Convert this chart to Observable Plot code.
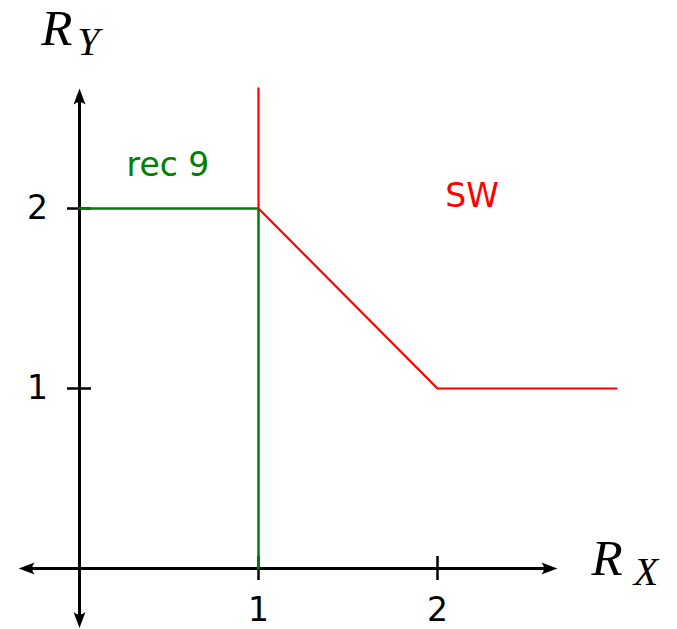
<!DOCTYPE html>
<html>
<head>
<meta charset="utf-8">
<script src="https://cdn.jsdelivr.net/npm/d3@7"></script>
<script src="https://cdn.jsdelivr.net/npm/@observablehq/plot@0.6"></script>
<style>
  html, body { margin: 0; padding: 0; background: #fff; }
</style>
</head>
<body>
<div id="chart"></div>
<script>
// Rate-region boundaries (R_X, R_Y)
const swX = [1, 1, 2, 3];
const swY = [2.667, 2, 1, 1];
const recX = [0, 1, 1];
const recY = [2, 2, 0];

// Tick values on both axes
const xTicks = [1, 2];
const yTicks = [1, 2];

// Axis extent (arrow tips)
const axisXMin = -0.34, axisXMax = 2.67;
const axisYMin = -0.33, axisYMax = 2.667;

// Region labels
const regionLabels = ["rec 9", "SW"];
const regionColors = ["green", "red"];
const regionX = [0.494, 2.193];
const regionY = [2.239, 2.069];

const W = 677, H = 629;
const ox = 79, oy = 568, ux = 179, uy = 180;   // origin pixel and unit lengths
const xDomain = [-ox / ux, (W - ox) / ux];
const yDomain = [(oy - H) / uy, oy / uy];

const tickHalfX = 12 / uy;   // half tick length in y units
const tickHalfY = 12 / ux;   // half tick length in x units

// Filled arrowhead with its tip at the origin, pointing up
const arrowHead = {
  draw(ctx, size) {
    ctx.moveTo(0, 0);
    ctx.lineTo(6, 16);
    ctx.quadraticCurveTo(0, 11, -6, 16);
    ctx.closePath();
  }
};

const sw = swX.map((x, i) => ({x, y: swY[i]}));
const rec = recX.map((x, i) => ({x, y: recY[i]}));
const arrows = [
  {x: axisXMax, y: 0, r: 90},
  {x: axisXMin, y: 0, r: 270},
  {x: 0, y: axisYMax, r: 0},
  {x: 0, y: axisYMin, r: 180}
];
const labels = regionLabels.map((t, i) => ({t, x: regionX[i], y: regionY[i], c: regionColors[i]}));

const serif = "'Liberation Serif', 'DejaVu Serif', serif";
const sans = "'DejaVu Sans', sans-serif";

const chart = Plot.plot({
  width: W,
  height: H,
  margin: 0,
  x: {domain: xDomain, range: [0, W], axis: null},
  y: {domain: yDomain, range: [H, 0], axis: null},
  marks: [
    // axes
    Plot.ruleY([0], {x1: axisXMin + 0.03, x2: axisXMax - 0.03, stroke: "black", strokeWidth: 3}),
    Plot.ruleX([0], {y1: axisYMin + 0.03, y2: axisYMax - 0.03, stroke: "black", strokeWidth: 3}),
    Plot.dot(arrows, {x: "x", y: "y", rotate: "r", symbol: arrowHead, fill: "black", stroke: "none", r: 4}),
    // ticks
    Plot.ruleX(xTicks, {y1: -tickHalfX, y2: tickHalfX, stroke: "black", strokeWidth: 2.5}),
    Plot.ruleY(yTicks, {x1: -tickHalfY, x2: tickHalfY, stroke: "black", strokeWidth: 2.5}),
    Plot.text(xTicks, {x: d => d, y: -0.233, text: d => String(d), fontSize: 33, fontFamily: sans, fill: "black"}),
    Plot.text(yTicks, {x: -0.235, y: d => d, text: d => String(d), fontSize: 33, fontFamily: sans, fill: "black"}),
    // region boundaries
    Plot.line(rec, {x: "x", y: "y", stroke: "green", strokeWidth: 2.5, strokeLinejoin: "miter"}),
    Plot.line(sw, {x: "x", y: "y", stroke: "red", strokeWidth: 2.2, strokeLinejoin: "miter"}),
    // region labels
    Plot.text(labels, {x: "x", y: "y", text: "t", fill: "c", fontSize: 33, fontFamily: sans}),
    // axis titles
    Plot.text(["R"], {x: -0.126, y: 2.997, text: d => d, fontSize: 51, fontStyle: "italic", fontFamily: serif, fill: "black"}),
    Plot.text(["Y"], {x: 0.05, y: 2.925, text: d => d, fontSize: 40, fontStyle: "italic", fontFamily: serif, fill: "black"}),
    Plot.text(["R"], {x: 2.947, y: 0.053, text: d => d, fontSize: 51, fontStyle: "italic", fontFamily: serif, fill: "black"}),
    Plot.text(["X"], {x: 3.165, y: -0.019, text: d => d, fontSize: 40, fontStyle: "italic", fontFamily: serif, fill: "black"})
  ]
});

document.getElementById("chart").appendChild(chart);
</script>
</body>
</html>
